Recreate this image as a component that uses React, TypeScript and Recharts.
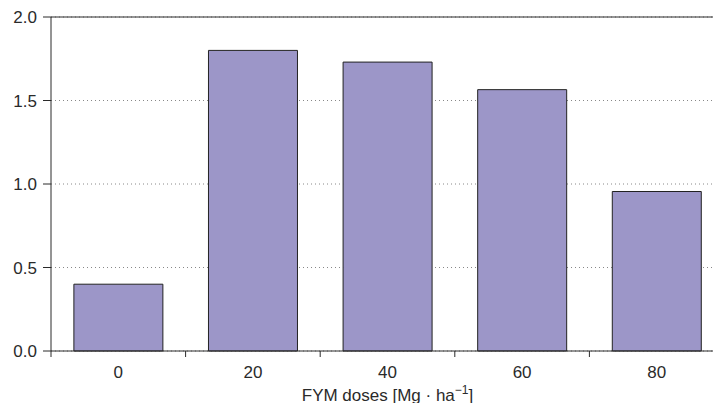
import React from "react";
import { BarChart, Bar, XAxis, YAxis, CartesianGrid, ReferenceLine, Label } from "recharts";

const doses = ["0", "20", "40", "60", "80"];
const values = [0.4, 1.8, 1.73, 1.565, 0.955];
const yTicks = [0, 0.5, 1.0, 1.5, 2.0];

const chartData = doses.map((dose, i) => ({ dose, value: values[i] }));

const ink = "#2a2a2a";
const font = "'Liberation Sans', Arial, sans-serif";

function DoseTick(props: any) {
  const { x, y, payload } = props;
  const axisY = y - 10;
  const edge = x - (payload.offset ?? 0);
  return (
    <g>
      <line x1={edge} y1={axisY} x2={edge} y2={axisY + 6} stroke={ink} strokeWidth={1} />
      <text x={x} y={y} dy={17} textAnchor="middle" fontSize={17} fill={ink} fontFamily={font}>
        {payload.value}
      </text>
    </g>
  );
}

function AxisTitle(props: any) {
  const { viewBox } = props;
  const cx = viewBox.x + viewBox.width / 2;
  return (
    <text x={cx} y={401} textAnchor="middle" fontSize={17} fill={ink} fontFamily={font}>
      FYM doses [Mg · ha
      <tspan dy={-7} fontSize={12}>−1</tspan>
      <tspan dy={7}>]</tspan>
    </text>
  );
}

export default function App() {
  return (
    <div style={{ position: "fixed", left: 0, top: 0, width: 713, height: 403, overflow: "hidden", background: "#fff" }}>
      <BarChart
        width={724}
        height={403}
        data={chartData}
        margin={{ top: 17, right: 0, bottom: 0, left: 0 }}
        barCategoryGap="17%"
      >
        <CartesianGrid vertical={false} stroke="#888" strokeDasharray="1 3" />
        <XAxis
          dataKey="dose"
          height={52}
          tickLine={false}
          tickSize={6}
          tickMargin={4}
          axisLine={{ stroke: ink }}
          tick={<DoseTick />}
        >
          <Label content={<AxisTitle />} />
        </XAxis>
        <YAxis
          width={51}
          domain={[0, 2]}
          ticks={yTicks}
          tickFormatter={(v: number) => v.toFixed(1)}
          tickSize={8}
          tickMargin={6}
          tickLine={{ stroke: ink }}
          axisLine={{ stroke: ink }}
          tick={{ fontSize: 17, fill: ink, fontFamily: font }}
        />
        <ReferenceLine y={2} stroke={ink} strokeWidth={1} ifOverflow="extendDomain" />
        <Bar dataKey="value" fill="#9c96c8" stroke="#222" strokeWidth={1} isAnimationActive={false} />
      </BarChart>
    </div>
  );
}
